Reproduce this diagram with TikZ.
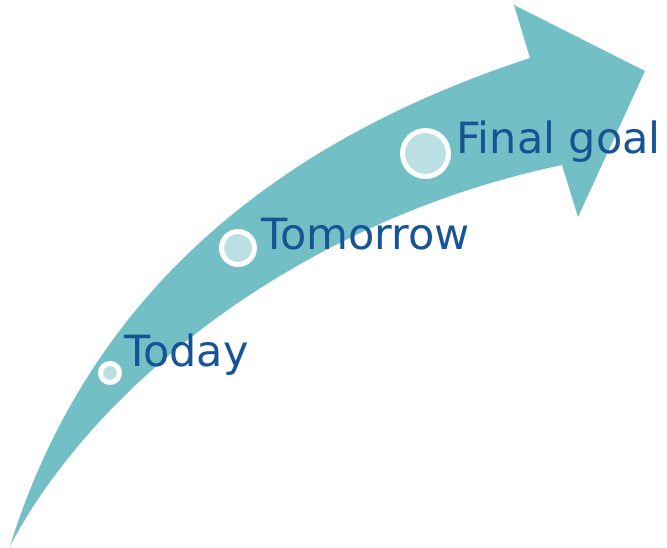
\documentclass[tikz,border=0pt]{standalone}
\usepackage{fontspec}
\setmainfont{DejaVu Sans}
\definecolor{arrowteal}{RGB}{114,191,197}
\definecolor{dotfill}{RGB}{187,224,227}
\definecolor{labelblue}{RGB}{22,84,150}
\begin{document}
\begin{tikzpicture}[x=1pt,y=-1pt,
  milestone/.style={circle,fill=dotfill,draw=white,line width=5pt,inner sep=0pt},
  mlabel/.style={anchor=base west,inner sep=0pt,text=labelblue,font=\fontsize{43}{50}\selectfont}]
\useasboundingbox (0,0) rectangle (667,548);
% arrow
\fill[arrowteal] (10,546) .. controls (90,290) and (280,140) .. (530,58)
  -- (514,5) -- (645,71) -- (578,217) -- (562,165)
  .. controls (300,220) and (95,385) .. (10,546) -- cycle;
% milestones
\node[milestone,minimum size=19pt] (today) at (110,373) {};
\node[milestone,minimum size=33pt] (tomorrow) at (238,248) {};
\node[milestone,minimum size=46pt] (final) at (425.5,153.5) {};
\node[mlabel] (todaytxt) at (124,366) {Today};
\node[mlabel] (tomorrowtxt) at (261,250) {Tomorrow};
\node[mlabel] (finaltxt) at (456,154) {Final goal};
\end{tikzpicture}
\end{document}
